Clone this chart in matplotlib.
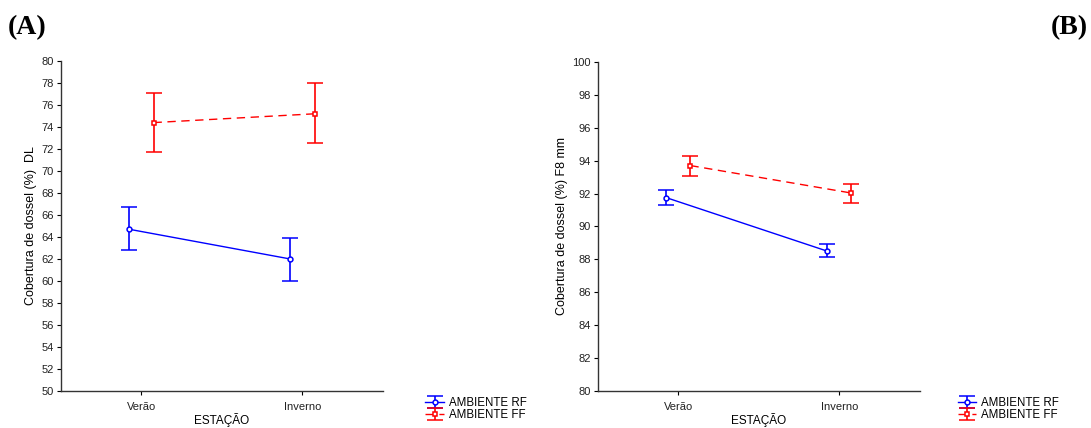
import numpy as np
import matplotlib.pyplot as plt

plt.rcParams['font.family'] = ['Liberation Sans', 'DejaVu Sans']

estacoes = ['Verão', 'Inverno']
series = ['AMBIENTE RF', 'AMBIENTE FF']

# Panel A: canopy cover DL (mean, lower, upper)
a_rf_mean = [64.7, 62.0]
a_rf_low = [62.8, 60.0]
a_rf_high = [66.7, 63.9]
a_ff_mean = [74.4, 75.2]
a_ff_low = [71.7, 72.5]
a_ff_high = [77.1, 78.0]

# Panel B: canopy cover F8 mm
b_rf_mean = [91.75, 88.5]
b_rf_low = [91.33, 88.17]
b_rf_high = [92.2, 88.95]
b_ff_mean = [93.7, 92.03]
b_ff_low = [93.05, 91.45]
b_ff_high = [94.3, 92.55]

fig = plt.figure(figsize=(10.91, 4.28), dpi=100)
ax1 = fig.add_axes([0.0559, 0.0864, 0.2951, 0.7711])
ax2 = fig.add_axes([0.548, 0.0864, 0.2951, 0.769])

x = np.arange(len(estacoes))
off = 0.075


def draw(ax, rf, ff, ylim, ylabel):
    handles = []
    for (m, lo, hi), dx, col, mk, ls in [(rf, -off, 'blue', 'o', '-'),
                                         (ff, off, 'red', 's', '--')]:
        m = np.array(m)
        err = [m - np.array(lo), np.array(hi) - m]
        h = ax.errorbar(x + dx, m, yerr=err, color=col, marker=mk, ms=3.5,
                        mfc='white', mec=col, mew=1.1, lw=1.0, ls=ls,
                        dashes=(6, 4) if ls == '--' else (None, None),
                        capsize=6, capthick=1.2, elinewidth=1.2)
        handles.append(h)
    ax.set_xlim(-0.5, 1.5)
    ax.set_ylim(*ylim)
    ax.set_xticks(x)
    ax.set_xticklabels(estacoes, fontsize=8)
    ax.set_yticks(np.arange(ylim[0], ylim[1] + 1, 2))
    ax.tick_params(axis='y', labelsize=8, length=3, width=0.8, pad=2,
                   labelcolor='#222222')
    ax.tick_params(axis='x', length=3, width=0.8, pad=5, labelcolor='#222222')
    for s in ['top', 'right']:
        ax.spines[s].set_visible(False)
    for s in ['left', 'bottom']:
        ax.spines[s].set_color('#333333')
        ax.spines[s].set_linewidth(1.0)
    ax.set_xlabel('ESTAÇÃO', fontsize=8.5, labelpad=1)
    ax.set_ylabel(ylabel, fontsize=9, labelpad=3)
    return handles


h1 = draw(ax1, (a_rf_mean, a_rf_low, a_rf_high), (a_ff_mean, a_ff_low, a_ff_high),
          (50, 80), 'Cobertura de dossel (%)  DL')
h2 = draw(ax2, (b_rf_mean, b_rf_low, b_rf_high), (b_ff_mean, b_ff_low, b_ff_high),
          (80, 100), 'Cobertura de dossel (%) F8 mm')

for h, xa in [(h1, 0.390), (h2, 0.878)]:
    fig.legend(h, series, loc='upper left', bbox_to_anchor=(xa, 0.072),
               frameon=False, fontsize=8.3, handlelength=1.6, handletextpad=0.4,
               labelspacing=0.0, borderpad=0, borderaxespad=0)

fig.text(0.007, 0.965, '(A)', fontsize=20, fontweight='bold', family='Liberation Serif',
         va='top', ha='left')
fig.text(0.997, 0.965, '(B)', fontsize=20, fontweight='bold', family='Liberation Serif',
         va='top', ha='right')

fig.savefig('out.png', dpi=100)
